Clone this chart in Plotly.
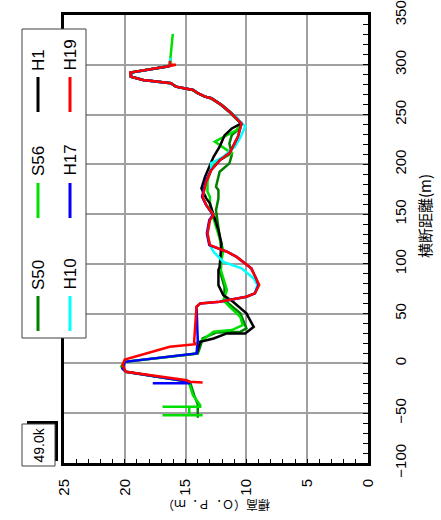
import plotly.graph_objects as go

# ---- data: distance (m) and elevation (O.P.m) for each survey year ----
s50_d = [300, 298.5, 292.2, 288, 284.7, 283, 281.4, 278, 276.3, 274.7, 271.4, 268, 266.4, 259.6, 252.9, 246.2, 241,
         234.5, 229.4, 221, 209.4, 201, 192.6, 177.5, 174, 165.8, 154, 134, 113.9, 93.8, 77, 63.6, 50.3, 35.2, 31.8,
         31, 25.1, 16.7, 10, 1.6, -5, -8.4, -18.5, -20, -31.8, -41, -54.5]
s50_e = [16.3, 16.4, 19.5, 19.45, 18.45, 17.4, 16.2, 15.75, 15.15, 14.35, 13.95, 13.4, 12.85, 12.0, 11.35, 10.75, 10.4,
         10.7, 11.2, 11.4, 11.2, 11.4, 12.2, 12.5, 12.3, 12.3, 12.5, 12.3, 12.05, 12.2, 11.8, 11.8, 10.5, 10.0, 10.5,
         12.5, 13.6, 13.8, 14.0, 20.0, 20.2, 19.9, 14.7, 14.6, 14.3, 14.0, 14.0]

s56_d = [331, 320, 306.5, 302, 298.5, 292.2, 288, 284.7, 283, 281.4, 278, 276.3, 274.7, 271.4, 268, 266.4, 259.6,
         252.9, 246.2, 241, 234.5, 222.8, 211, 204.3, 195.8, 182.5, 172.5, 167.5, 157.4, 137.3, 113.9, 103.8, 93.8,
         73.7, 63.6, 57, 46.8, 38.5, 33.5, 31.8, 26.7, 21.7, 13.4, 10, 1.6, -3, -8.4, -18.5, -20.1, -31.8, -41.9,
         -43.6, -43.6, -43.6, -52, -52, -52]
s56_e = [16.05, 16.15, 16.25, 16.2, 16.5, 19.55, 19.5, 18.5, 17.4, 16.25, 15.85, 15.25, 14.45, 14.05, 13.45, 12.95,
         12.1, 11.45, 10.85, 10.45, 10.8, 12.6, 11.2, 12.2, 12.9, 13.2, 13.2, 13.0, 13.0, 12.5, 11.9, 12.05, 12.1,
         11.6, 11.9, 11.4, 10.5, 10.3, 11.2, 12.7, 13.3, 13.8, 14.0, 14.1, 20.0, 20.3, 19.9, 14.7, 14.7, 14.4, 13.8,
         13.8, 16.9, 14.7, 14.7, 13.6, 16.9]

h1_d = [300, 298.5, 292.2, 288, 284.7, 283, 281.4, 278, 276.3, 274.7, 271.4, 268, 266.4, 259.6, 252.9, 246.2, 241,
        236, 229, 217.7, 207.6, 197, 187.5, 175.9, 165.8, 160.8, 144, 134, 120.6, 97, 93.8, 78.7, 68.6, 62, 50.3,
        36.8, 30.2, 30.2, 25.1, 21.7, 13.4, 10]
h1_e = [16.3, 16.4, 19.5, 19.5, 18.5, 17.35, 16.2, 15.8, 15.2, 14.4, 14.0, 13.4, 12.9, 12.05, 11.4, 10.8, 10.45,
        11.2, 11.8, 12.2, 12.7, 13.1, 13.4, 13.7, 13.3, 13.0, 12.6, 12.3, 12.05, 12.2, 12.3, 12.3, 11.9, 11.1, 10.0,
        9.4, 10.1, 11.6, 12.7, 13.8, 14.0, 14.1]

h10_d = [307, 300, 298.5, 292.2, 288, 284.7, 283, 281.4, 278, 276.3, 274.7, 271.4, 268, 266.4, 259.6, 252.9, 246.2,
         238, 227, 217.7, 207.6, 201, 194, 182.5, 174, 167.4, 159, 149, 144, 130.6, 119, 112.2, 102, 95.5, 85.4, 79,
         70.4, 67, 62]
h10_e = [16.25, 16.3, 16.4, 19.5, 19.5, 18.5, 17.4, 16.2, 15.8, 15.2, 14.4, 14.0, 13.4, 12.9, 12.05, 11.4, 10.75,
         10.1, 10.5, 10.95, 11.9, 12.9, 12.9, 13.3, 13.5, 13.6, 13.3, 12.7, 13.0, 13.2, 13.0, 12.7, 11.9, 10.4, 9.4,
         9.1, 9.3, 10.0, 12.2]

h17_d = [299, 298.5, 292.2, 288, 284.7, 283, 281.4, 278, 276.3, 274.7, 271.4, 268, 266.4, 259.6, 252.9, 246.2, 241,
         227.7, 211, 204, 194, 182.5, 174, 167.4, 159, 149, 144, 130.6, 118.9, 112.2, 107, 95.5, 85.4, 78.7, 70.4, 67,
         62, 60.3, 57, 23.4, 10, 1.6, -5, -8.4, -18.5, -20, -20]
h17_e = [16.3, 16.4, 19.5, 19.5, 18.5, 17.4, 16.2, 15.8, 15.2, 14.4, 14.0, 13.4, 12.9, 12.05, 11.4, 10.8, 10.4,
         10.7, 11.4, 12.2, 12.9, 13.35, 13.55, 13.65, 13.3, 12.75, 13.05, 13.25, 13.05, 11.6, 10.8, 9.6, 9.2, 9.0, 9.3,
         10.0, 12.2, 13.8, 14.1, 14.0, 14.1, 20.0, 20.2, 19.9, 14.7, 14.7, 17.7]

h19_d = [304, 300, 300, 298.5, 292.2, 288, 284.7, 283, 281.4, 278, 276.3, 274.7, 271.4, 268, 266.4, 259.6, 252.9,
         246.2, 241, 227.7, 211, 204, 194, 182.5, 174, 167.4, 159, 149, 144, 130.6, 118.9, 112.2, 107, 95.5, 85.4,
         78.7, 70.4, 67, 62, 60.3, 57, 21.7, 19.4, 16.7, 4, -1.7, -8.4, -16.8, -18.5, -19.2]
h19_e = [16.3, 16.3, 15.8, 16.4, 19.55, 19.5, 18.5, 17.4, 16.2, 15.8, 15.2, 14.4, 14.0, 13.4, 12.9, 12.05, 11.4,
         10.8, 10.4, 10.7, 11.4, 12.2, 12.9, 13.3, 13.5, 13.6, 13.3, 12.7, 13.0, 13.2, 13.0, 11.6, 10.8, 9.6, 9.2,
         8.95, 9.3, 10.0, 12.2, 13.8, 14.1, 14.3, 14.2, 16.3, 20.0, 20.2, 19.9, 14.9, 14.7, 13.6]

series_names = ["S50", "S56", "H1", "H10", "H17", "H19"]
series_colors = ["#008000", "#00E000", "#000000", "#00FFFF", "#0000FF", "#FF0000"]
series_data = [(s50_d, s50_e), (s56_d, s56_e), (h1_d, h1_e), (h10_d, h10_e), (h17_d, h17_e), (h19_d, h19_e)]

elev_ticks = [0, 5, 10, 15, 20, 25]
dist_ticks = [-100, -50, 0, 50, 100, 150, 200, 250, 300, 350]

x_title = "標高（Ｏ．Ｐ．ｍ）"
y_title = "横断距離(m)"
section_label = "49.0k"

# ---- figure ----
fig = go.Figure()
for name, color, (d, e) in zip(series_names, series_colors, series_data):
    fig.add_trace(go.Scatter(x=e, y=d, mode="lines", name=name,
                             line=dict(color=color, width=2.5)))

W, H = 441, 520
L, R, T, B = 64, 368, 15, 463
pw, ph = R - L, B - T


def px(x):
    return (x - L) / pw


def py(y):
    return (B - y) / ph


tickfont = dict(family="Liberation Sans, Arial, sans-serif", size=15, color="black")
fig.update_layout(
    width=W, height=H,
    margin=dict(l=L, r=W - R, t=T, b=H - B, autoexpand=False),
    plot_bgcolor="white", paper_bgcolor="white",
    showlegend=False,
    xaxis=dict(range=[25, 0], tickvals=elev_ticks, tickangle=-90, tickfont=tickfont, automargin=False,
               showgrid=True, gridcolor="#a0a0a0", gridwidth=1.5, zeroline=False,
               showline=True, linecolor="black", linewidth=3, mirror=True,
               ticks="inside", ticklen=4, tickcolor="black", tickwidth=1,
               minor=dict(dtick=1, ticks="inside", ticklen=4, tickcolor="black", showgrid=False),
               ticklabelstandoff=7),
    yaxis=dict(range=[-100, 350], tickvals=dist_ticks, tickangle=-90, tickfont=tickfont, side="right",
               automargin=False,
               showgrid=True, gridcolor="#a0a0a0", gridwidth=1.5, zeroline=False,
               showline=True, linecolor="black", linewidth=3, mirror=True,
               ticks="inside", ticklen=5, tickcolor="black", tickwidth=1,
               minor=dict(dtick=10, ticks="inside", ticklen=5, tickcolor="black", showgrid=False),
               ticklabelstandoff=17),
)

shapes = []
annotations = []

# axis titles
annotations.append(dict(x=px(216), y=py(506), xref="paper", yref="paper", text=x_title, showarrow=False,
                        textangle=180, xanchor="center", yanchor="middle",
                        font=dict(family="Noto Sans CJK JP", size=12, color="black")))
annotations.append(dict(x=px(424), y=py(216), xref="paper", yref="paper", text=y_title, showarrow=False,
                        textangle=-90, xanchor="center", yanchor="middle",
                        font=dict(family="Noto Sans CJK JP", size=15, color="black")))

# legend box
shapes.append(dict(type="rect", xref="paper", yref="paper", x0=px(22), x1=px(86), y0=py(338), y1=py(29),
                   fillcolor="white", line=dict(color="#404040", width=1), layer="above"))
col_x = [38, 70]
rows = [(292, 296, 331), (178, 183, 218), (73, 77, 112)]  # text bottom, sample top, sample bottom
legend_layout = [(0, 0), (0, 1), (0, 2), (1, 0), (1, 1), (1, 2)]
for (ci, ri), name, color in zip(legend_layout, series_names, series_colors):
    tb, s0, s1 = rows[ri]
    shapes.append(dict(type="line", xref="paper", yref="paper", x0=px(col_x[ci]), x1=px(col_x[ci]),
                       y0=py(s1), y1=py(s0), line=dict(color=color, width=3), layer="above"))
    annotations.append(dict(x=px(col_x[ci]), y=py(tb), xref="paper", yref="paper", text=name,
                            showarrow=False, textangle=-90, xanchor="center", yanchor="bottom",
                            font=dict(family="Liberation Sans, Arial, sans-serif", size=17, color="black")))

# section label box with shadow
shapes.append(dict(type="rect", xref="paper", yref="paper", x0=px(27), x1=px(58), y0=py(461), y1=py(421),
                   fillcolor="black", line=dict(width=0), layer="above"))
shapes.append(dict(type="rect", xref="paper", yref="paper", x0=px(22), x1=px(55), y0=py(466), y1=py(424),
                   fillcolor="white", line=dict(color="#404040", width=1), layer="above"))
annotations.append(dict(x=px(38.5), y=py(445), xref="paper", yref="paper", text=section_label, showarrow=False,
                        textangle=-90, xanchor="center", yanchor="middle",
                        font=dict(family="Liberation Sans, Arial, sans-serif", size=14, color="black")))

fig.update_layout(shapes=shapes, annotations=annotations)
fig.write_html("out.html")
